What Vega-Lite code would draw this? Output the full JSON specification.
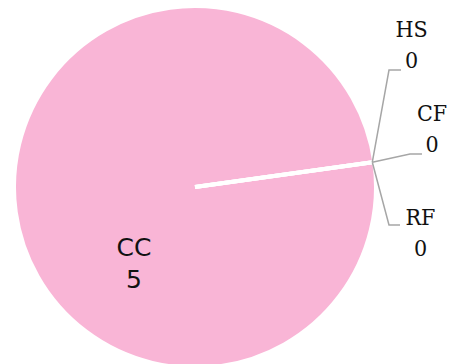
{
  "$schema": "https://vega.github.io/schema/vega-lite/v6.json",
  "width": 362,
  "height": 362,
  "autosize": "none",
  "padding": {"left": 14, "top": 6, "right": 77, "bottom": 0},
  "background": "white",
  "config": {"view": {"stroke": null}},
  "datasets": {
    "slices": [
      {"category": "CC", "value": 5, "lx": -0.337, "ly": -0.3796},
      {"category": "HS", "value": 0, "lx": 1.1961, "ly": 0.8287},
      {"category": "CF", "value": 0, "lx": 1.3094, "ly": 0.3646},
      {"category": "RF", "value": 0, "lx": 1.2459, "ly": -0.2099}
    ],
    "leaders": [
      {"category": "HS", "step": 0, "px": 0.9796, "py": 0.137},
      {"category": "HS", "step": 1, "px": 1.0718, "py": 0.6464},
      {"category": "HS", "step": 2, "px": 1.1381, "py": 0.6464},
      {"category": "CF", "step": 0, "px": 0.9796, "py": 0.137},
      {"category": "CF", "step": 1, "px": 1.1878, "py": 0.1823},
      {"category": "CF", "step": 2, "px": 1.2541, "py": 0.1823},
      {"category": "RF", "step": 0, "px": 0.9796, "py": 0.137},
      {"category": "RF", "step": 1, "px": 1.0718, "py": -0.2099},
      {"category": "RF", "step": 2, "px": 1.1326, "py": -0.2099}
    ]
  },
  "layer": [
    {
      "data": {"name": "slices"},
      "mark": {"type": "arc", "stroke": "white", "strokeWidth": 4},
      "encoding": {
        "theta": {"field": "value", "type": "quantitative", "stack": true, "scale": {"range": [1.432, 7.7152]}},
        "color": {"value": "#f9b5d6"}
      }
    },
    {
      "data": {"name": "leaders"},
      "mark": {"type": "line", "color": "#a6a6a6", "strokeWidth": 1.5},
      "encoding": {
        "x": {"field": "px", "type": "quantitative", "scale": {"domain": [-1, 1]}, "axis": null},
        "y": {"field": "py", "type": "quantitative", "scale": {"domain": [-1, 1]}, "axis": null},
        "detail": {"field": "category"},
        "order": {"field": "step"}
      }
    },
    {
      "data": {"name": "slices"},
      "transform": [
        {"filter": "datum.category !== 'CC'"},
        {"calculate": "datum.category + '\\n' + datum.value", "as": "label"}
      ],
      "mark": {"type": "text", "lineBreak": "\n", "font": "DejaVu Serif Condensed, DejaVu Serif", "fontSize": 23, "lineHeight": 31, "color": "#111", "align": "center", "baseline": "alphabetic"},
      "encoding": {
        "x": {"field": "lx", "type": "quantitative", "scale": {"domain": [-1, 1]}, "axis": null},
        "y": {"field": "ly", "type": "quantitative", "scale": {"domain": [-1, 1]}, "axis": null},
        "text": {"field": "label"}
      }
    },
    {
      "data": {"name": "slices"},
      "transform": [
        {"filter": "datum.category === 'CC'"},
        {"calculate": "datum.category + '\\n' + datum.value", "as": "label"}
      ],
      "mark": {"type": "text", "lineBreak": "\n", "font": "DejaVu Sans", "fontSize": 25, "lineHeight": 32, "color": "#111", "align": "center", "baseline": "alphabetic"},
      "encoding": {
        "x": {"field": "lx", "type": "quantitative", "scale": {"domain": [-1, 1]}, "axis": null},
        "y": {"field": "ly", "type": "quantitative", "scale": {"domain": [-1, 1]}, "axis": null},
        "text": {"field": "label"}
      }
    }
  ]
}
